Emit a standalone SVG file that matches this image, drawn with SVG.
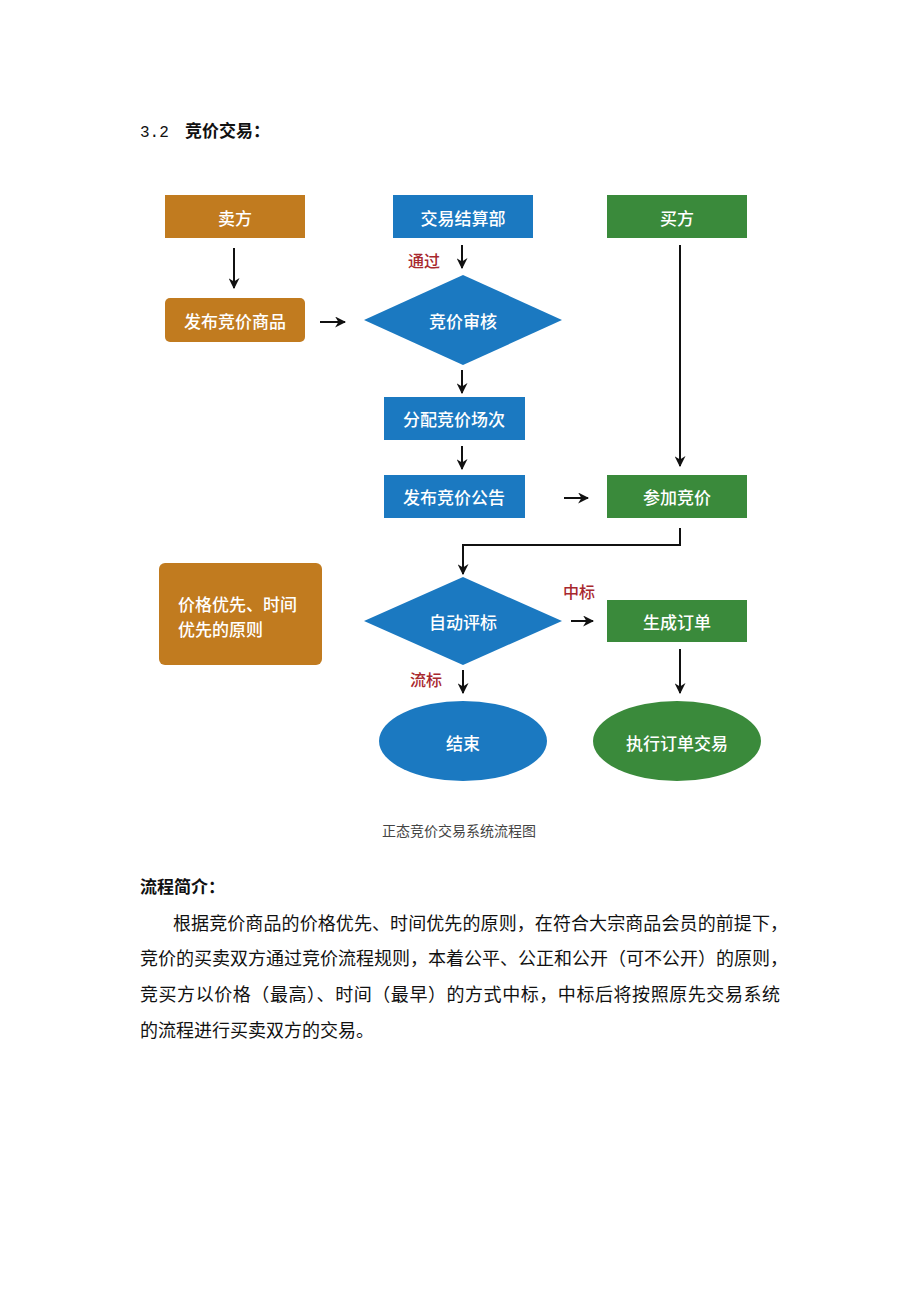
<svg xmlns="http://www.w3.org/2000/svg" width="920" height="1302" viewBox="0 0 920 1302">
<style>
.nt{font-family:"Noto Sans CJK SC","Noto Sans",sans-serif;font-size:17px;font-weight:500;fill:#fff;text-anchor:middle;dominant-baseline:central}
.lb{font-family:"Noto Sans CJK SC","Noto Sans",sans-serif;font-size:16px;font-weight:500;fill:#a8282e;dominant-baseline:central}
.or{fill:#c17b1f}
.bl{fill:#1b79c1}
.gr{fill:#3a8a3b}
.ln{stroke:#111;stroke-width:2;fill:none;marker-end:url(#ah)}
.doc{font-family:"Liberation Serif","Noto Sans CJK SC",serif;font-size:18px;fill:#111}
</style>
<defs>
<marker id="ah" viewBox="0 0 10 10" refX="9" refY="5" markerWidth="5.5" markerHeight="5.5" orient="auto" markerUnits="strokeWidth">
<path d="M0,0 L10,5 L0,10 L3,5 z" fill="#111"/>
</marker>
</defs>
<rect width="920" height="1302" fill="#fff"/>
<text class="doc" x="140" y="137" style="font-size:17px"><tspan style="font-family:'Liberation Mono',monospace;font-size:16px">3.2</tspan><tspan x="185" style="font-weight:bold">竞价交易：</tspan></text>

<g id="seller"><rect class="or" x="165" y="195" width="140" height="43"/><text class="nt" x="235" y="217">卖方</text></g>
<g id="settle"><rect class="bl" x="393" y="195" width="140" height="43"/><text class="nt" x="463" y="217">交易结算部</text></g>
<g id="buyer"><rect class="gr" x="607" y="195" width="140" height="43"/><text class="nt" x="677" y="217">买方</text></g>
<g id="publish"><rect class="or" x="165" y="298" width="140" height="44" rx="5"/><text class="nt" x="235" y="320">发布竞价商品</text></g>
<g id="audit"><polygon class="bl" points="364,320 463,275 562,320 463,365"/><text class="nt" x="463" y="320">竞价审核</text></g>
<g id="assign"><rect class="bl" x="384" y="397" width="141" height="43"/><text class="nt" x="454" y="418">分配竞价场次</text></g>
<g id="notice"><rect class="bl" x="384" y="475" width="141" height="43"/><text class="nt" x="454" y="496">发布竞价公告</text></g>
<g id="join"><rect class="gr" x="607" y="475" width="140" height="43"/><text class="nt" x="677" y="496">参加竞价</text></g>
<g id="principle"><rect class="or" x="159" y="563" width="163" height="102" rx="6"/><text class="nt" x="178" y="603" style="text-anchor:start">价格优先、时间</text><text class="nt" x="178" y="628" style="text-anchor:start">优先的原则</text></g>
<g id="eval"><polygon class="bl" points="364,621 463,577 562,621 463,665"/><text class="nt" x="463" y="621">自动评标</text></g>
<g id="order"><rect class="gr" x="607" y="600" width="140" height="42"/><text class="nt" x="677" y="621">生成订单</text></g>
<g id="end"><ellipse class="bl" cx="463" cy="741" rx="84" ry="40"/><text class="nt" x="463" y="742">结束</text></g>
<g id="exec"><ellipse class="gr" cx="677" cy="741" rx="84" ry="40"/><text class="nt" x="677" y="742">执行订单交易</text></g>

<g id="connectors">
<line class="ln" x1="234" y1="248" x2="234" y2="288"/>
<line class="ln" x1="462" y1="245" x2="462" y2="268"/>
<line class="ln" x1="320" y1="322" x2="345" y2="322"/>
<line class="ln" x1="462" y1="370" x2="462" y2="393"/>
<line class="ln" x1="462" y1="446" x2="462" y2="469"/>
<line class="ln" x1="564" y1="498" x2="588" y2="498"/>
<line class="ln" x1="680" y1="245" x2="680" y2="466"/>
<polyline class="ln" points="680,528 680,545 463,545 463,574"/>
<line class="ln" x1="571" y1="621" x2="593" y2="621"/>
<line class="ln" x1="463" y1="670" x2="463" y2="693"/>
<line class="ln" x1="680" y1="649" x2="680" y2="693"/>
</g>
<text class="lb" x="408" y="260">通过</text>
<text class="lb" x="563" y="591">中标</text>
<text class="lb" x="410" y="679">流标</text>
<text x="459" y="830" style="font-family:'Noto Sans CJK SC',sans-serif;font-size:14px;fill:#444;text-anchor:middle;dominant-baseline:central">正态竞价交易系统流程图</text>

<text class="doc" x="140" y="893" style="font-weight:bold;font-size:17px">流程简介：</text>
<text class="doc" x="173" y="930" textLength="615" lengthAdjust="spacing">根据竞价商品的价格优先、时间优先的原则，在符合大宗商品会员的前提下，</text>
<text class="doc" x="140" y="965" textLength="648" lengthAdjust="spacing">竞价的买卖双方通过竞价流程规则，本着公平、公正和公开（可不公开）的原则，</text>
<text class="doc" x="140" y="1001" textLength="640" lengthAdjust="spacing">竞买方以价格（最高）、时间（最早）的方式中标，中标后将按照原先交易系统</text>
<text class="doc" x="140" y="1037">的流程进行买卖双方的交易。</text>
</svg>
